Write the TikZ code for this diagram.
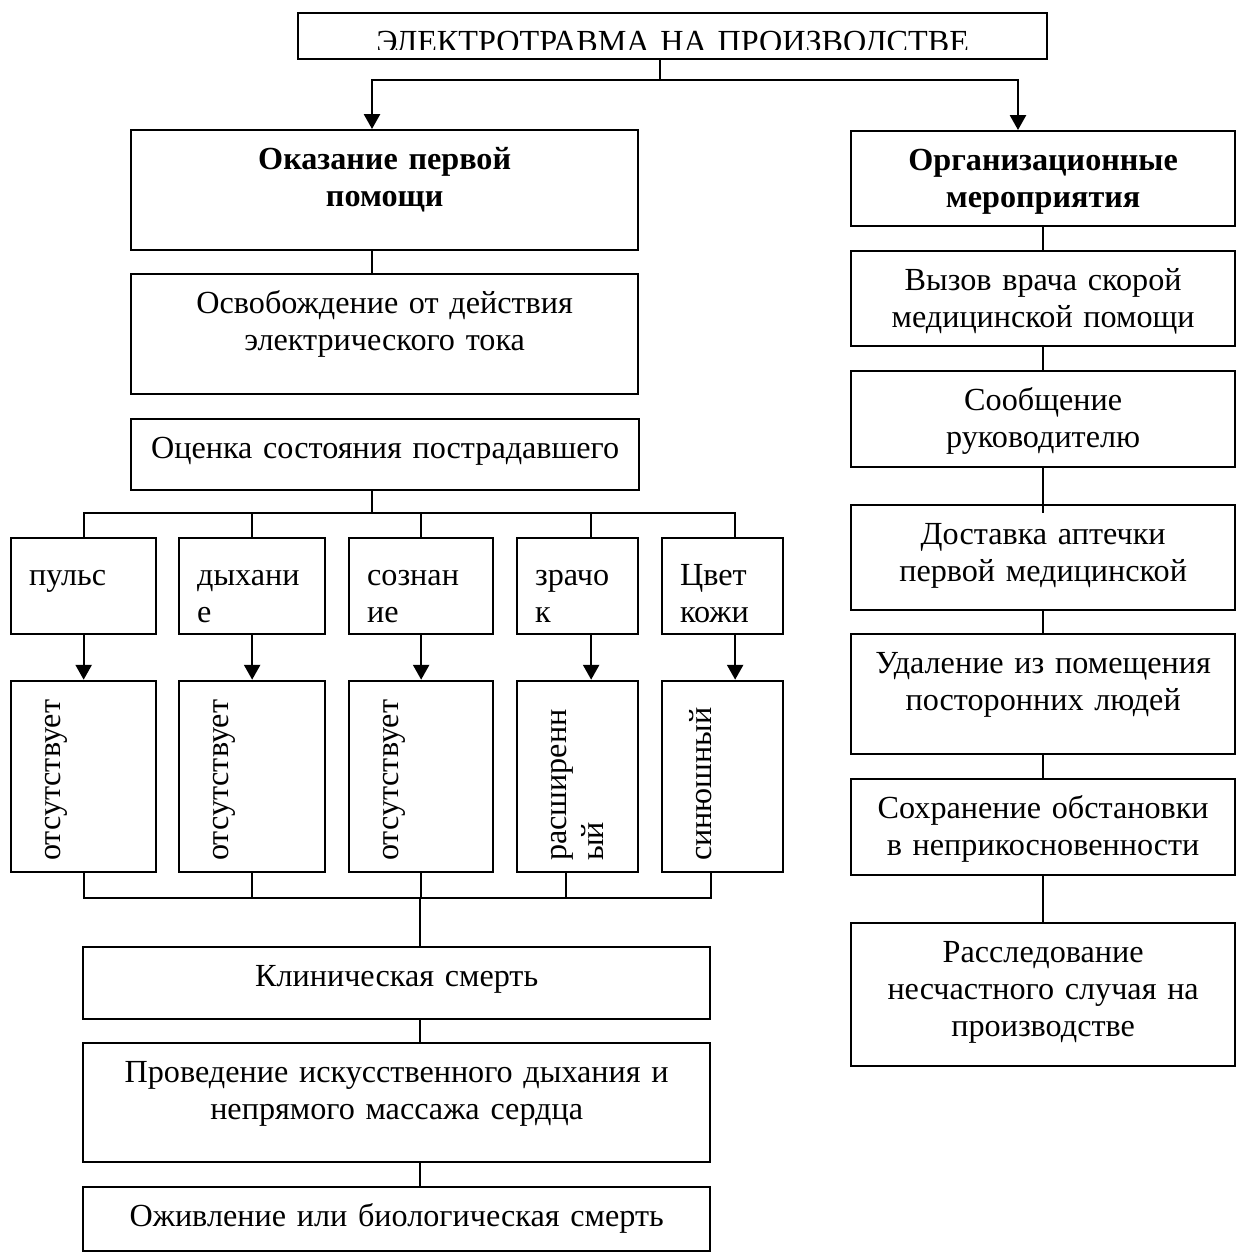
\documentclass[tikz,border=0pt]{standalone}
\usepackage{fontspec}
\setmainfont{Liberation Serif}
\usepackage{tikz}
\usetikzlibrary{positioning,arrows.meta}

\newcommand{\pxu}{0.435pt}

\begin{document}
\begin{tikzpicture}[
    x=0.435pt, y=-0.435pt,
    font=\fontsize{14pt}{16.1pt}\selectfont,
    boxline/.style={draw, line width=1pt},
    box/.code 2 args={%
      \pgfmathsetlengthmacro\boxwd{#1*\pxu}%
      \pgfmathsetlengthmacro\boxht{39*\pxu}%
      \pgfmathsetlengthmacro\boxdp{(#2-39)*\pxu}%
      \tikzset{boxline, inner sep=0pt, anchor=north west, align=center,
        text width=\boxwd, text height=\boxht, text depth=\boxdp}},
    sbox/.code 2 args={%
      \pgfmathsetlengthmacro\boxpad{18*\pxu}%
      \pgfmathsetlengthmacro\boxwd{(#1-36)*\pxu}%
      \pgfmathsetlengthmacro\boxht{47*\pxu}%
      \pgfmathsetlengthmacro\boxdp{(#2-47)*\pxu}%
      \tikzset{boxline, inner ysep=0pt, inner xsep=\boxpad, anchor=north west,
        align=left, text width=\boxwd, text height=\boxht, text depth=\boxdp}},
    % rotated box: local east is the top of the page, local west the bottom
    vbox/.code 2 args={%
      \pgfmathsetlengthmacro\boxpad{11*\pxu}%
      \pgfmathsetlengthmacro\boxwd{(#1-22)*\pxu}%
      \pgfmathsetlengthmacro\boxht{49*\pxu}%
      \pgfmathsetlengthmacro\boxdp{(#2-49)*\pxu}%
      \tikzset{boxline, rotate=90, inner ysep=0pt, inner xsep=\boxpad, anchor=north west,
        align=left, text width=\boxwd, text height=\boxht, text depth=\boxdp}},
    link/.style={line width=0.75pt},
    arrow/.style={line width=1pt, -{Triangle[length=6.5pt, width=7pt]}},
  ]
  \useasboundingbox (0,0) rectangle (1240,1254);

  % Title (its lower edge is cut off)
  \node[box={749}{46}] (trauma) at (297,12) {};
  \begin{scope}
    \clip (297,12) rectangle (1046,49);
    \node[box={749}{46}, draw=none] (traumatext) at (297,12) {ЭЛЕКТРОТРАВМА НА ПРОИЗВОДСТВЕ};
  \end{scope}

  % First aid column
  \node[box={507}{120}] (aid) at (130,129) {\bfseries Оказание первой\\помощи};
  \node[box={507}{120}] (free) at (130,273) {Освобождение от действия\\электрического тока};
  \node[box={508}{71}] (assess) at (130,418) {Оценка состояния пострадавшего};

  % Signs
  \node[sbox={145}{96}] (pulse) at (10,537) {пульс};
  \node[sbox={146}{96}] (breath) at (178,537) {дыхани\\е};
  \node[sbox={144}{96}] (consc) at (348,537) {сознан\\ие};
  \node[sbox={121}{96}] (pupil) at (516,537) {зрачо\\к};
  \node[sbox={121}{96}] (skin) at (661,537) {Цвет\\кожи};

  % States
  \node[vbox={191}{145}] (pulsen) at (10,873) {отсутствует};
  \node[vbox={191}{146}] (breathn) at (178,873) {отсутствует};
  \node[vbox={191}{144}] (conscn) at (348,873) {отсутствует};
  \node[vbox={191}{121}] (pupiln) at (516,873) {расширенн\\ый};
  \node[vbox={191}{121}] (skinn) at (661,873) {синюшный};

  \node[box={627}{72}] (death) at (82,946) {Клиническая смерть};
  \node[box={627}{119}] (cpr) at (82,1042) {Проведение искусственного дыхания и\\непрямого массажа сердца};
  \node[box={627}{64}] (revive) at (82,1186) {Оживление или биологическая смерть};

  % Organisation column
  \node[box={384}{95}] (org) at (850,130) {\bfseries Организационные\\мероприятия};
  \node[box={384}{95}] (call) at (850,250) {Вызов врача скорой\\медицинской помощи};
  \node[box={384}{96}] (report) at (850,370) {Сообщение\\руководителю};
  \node[box={384}{105}] (kit) at (850,504) {Доставка аптечки\\первой медицинской};
  \node[box={384}{120}] (remove) at (850,633) {Удаление из помещения\\посторонних людей};
  \node[box={384}{96}] (keep) at (850,778) {Сохранение обстановки\\в неприкосновенности};
  \node[box={384}{143}] (probe) at (850,922) {Расследование\\несчастного случая на\\производстве};

  % Connectors
  \coordinate (lcol) at (372,0);
  \coordinate (rcol) at (1018,0);
  \coordinate (ccol) at (420,0);
  \coordinate (split) at (660,80);
  \coordinate (sbus) at (372,513);
  \coordinate (bbus) at (420,898);

  \draw[link] (trauma.south -| split) -- (split);
  \draw[arrow] (split) -| (aid.north -| lcol);
  \draw[arrow] (split) -| (org.north -| rcol);
  \draw[link] (aid.south -| lcol) -- (free.north -| lcol);
  \draw[link] (assess.south -| lcol) -- (sbus);
  \foreach \a/\b/\s/\t in {pulse/pulsen/0/0, breath/breathn/0/0, consc/conscn/0/0,
      pupil/pupiln/13.5/-11.5, skin/skinn/12.5/-11.5}{
    \draw[link] (sbus) -| ([xshift=\s*\pxu]\a.north);
    \draw[arrow] ([xshift=\s*\pxu]\a.south) -- ([xshift=\s*\pxu]\b.east);
    \draw[link] ([xshift=\t*\pxu]\b.west) |- (bbus);
  }
  \draw[link] (bbus) -- (death.north -| bbus);
  \draw[link] (death.south -| ccol) -- (cpr.north -| ccol);
  \draw[link] (cpr.south -| ccol) -- (revive.north -| ccol);

  \draw[link] (org.south) -- (call.north);
  \draw[link] (call.south) -- (report.north);
  \draw[link] (report.south) -- ([yshift=-9*\pxu]kit.north);
  \draw[link] (kit.south) -- (remove.north);
  \draw[link] (remove.south) -- (keep.north);
  \draw[link] (keep.south) -- (probe.north);
\end{tikzpicture}
\end{document}
